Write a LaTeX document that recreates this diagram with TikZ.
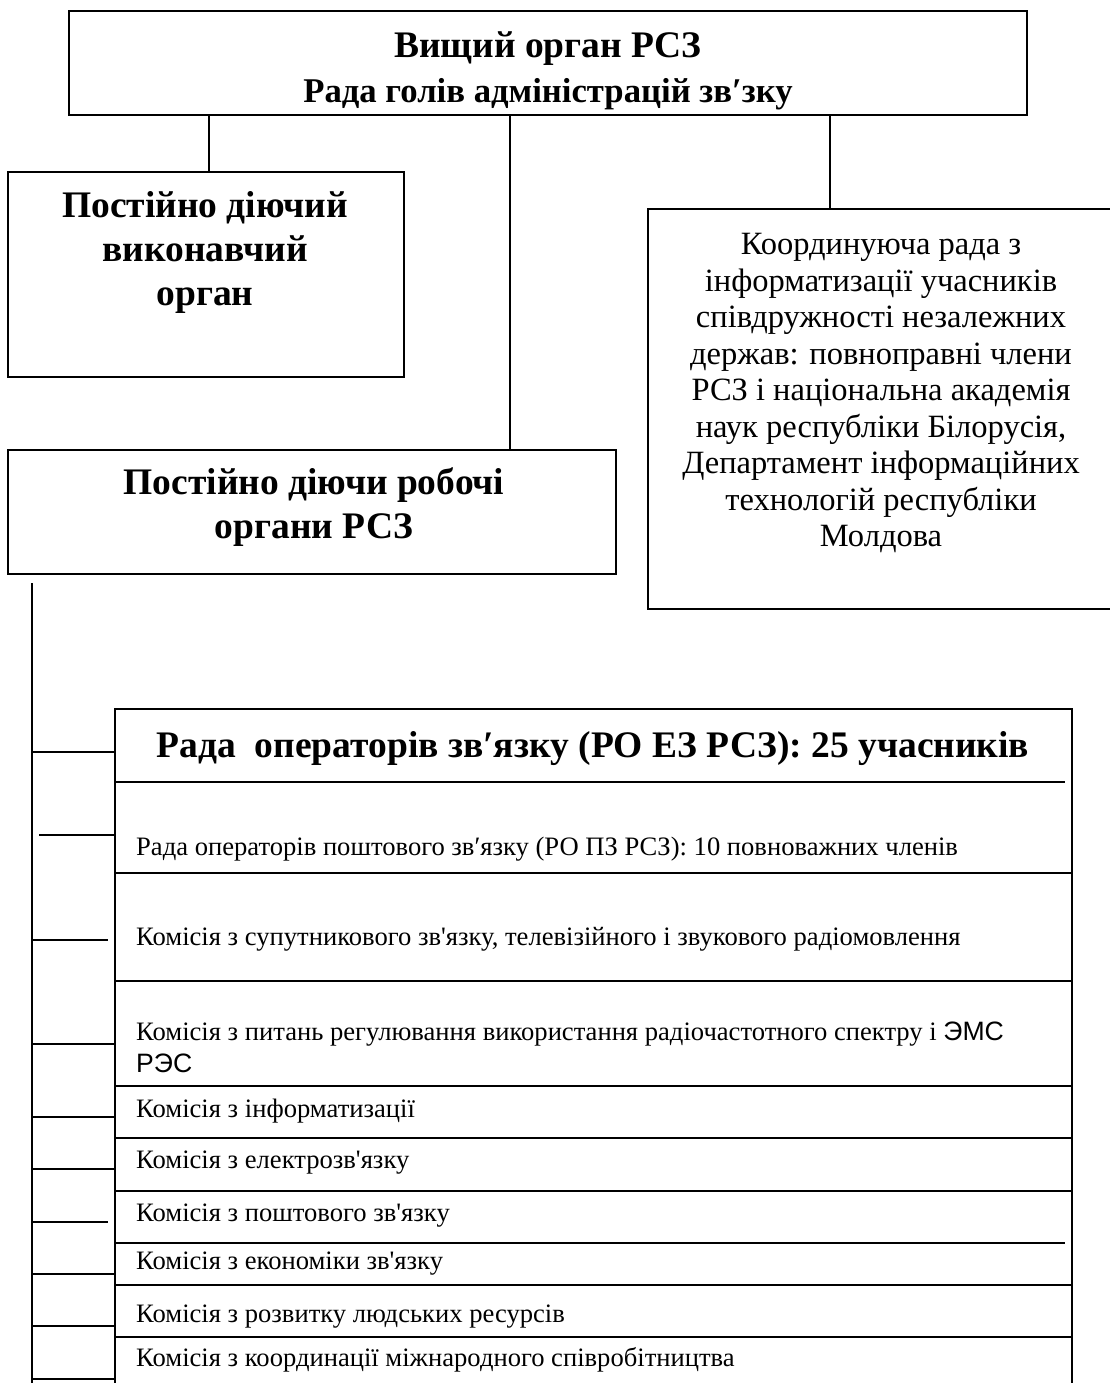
\documentclass[tikz,border=0pt]{standalone}
\usepackage{fontspec}
\setmainfont{Liberation Serif}[Ligatures=TeXOff]
\newfontfamily\arialfont{Liberation Sans}
\tikzset{
  box/.style={draw,line width=1.8pt,rectangle,inner sep=0pt},
  link/.style={line width=1.5pt},
  headtxt/.style={inner sep=0pt,align=center,font=\fontsize{37.5}{44}\selectfont\bfseries},
  infotxt/.style={inner sep=0pt,align=center,font=\fontsize{32.5}{36.5}\selectfont},
  rowtxt/.style={inner sep=0pt,anchor=west,align=left,font=\fontsize{26.6}{32}\selectfont},
}
\begin{document}
\begin{tikzpicture}[x=1pt,y=-1pt]
        \useasboundingbox (0,0) rectangle (1110,1383);
        \clip (0,0) rectangle (1110,1383);
        % boxes
        \draw (548,63) node[box,minimum width=958,minimum height=104](top){};
        \draw (206,274.5) node[box,minimum width=396,minimum height=205](exec){};
        \draw (312,512) node[box,minimum width=608,minimum height=124](work){};
        \draw (881,409) node[box,minimum width=466,minimum height=400](coord){};
        \draw (593.5,1052) node[box,minimum width=957,minimum height=686](ops){};
        % texts
        \draw (548,71) node[headtxt,font=\fontsize{34.7}{45}\selectfont\bfseries](toptxt){{\fontsize{37.5}{45}\selectfont Вищий орган РСЗ}\\Рада голів адміністрацій зв′зку};
        \draw (205,252) node[headtxt](exectxt){Постійно діючий\\виконавчий\\орган};
        \draw (314,507) node[headtxt](worktxt){Постійно діючи робочі\\органи РСЗ};
        \draw (881,393) node[infotxt](coordtxt){Координуюча рада з\\інформатизації учасників\\співдружності незалежних\\держав: повноправні члени\\РСЗ і національна академія\\наук республіки Білорусія,\\Департамент інформаційних\\технологій республіки\\Молдова};
        \draw (593,749) node[headtxt](opshead){Рада\ \ операторів зв′язку (РО ЕЗ РСЗ): 25 учасників};
        \draw (136,849) node[rowtxt](r1){Рада операторів поштового зв′язку (РО ПЗ РСЗ): 10 повноважних членів};
        \draw (136,939) node[rowtxt](r2){Комісія з супутникового зв'язку, телевізійного і звукового радіомовлення};
        \draw (136,1047) node[rowtxt](r3){Комісія з питань регулювання використання радіочастотного спектру і {\arialfont ЭМС}\\{\arialfont РЭС}};
        \draw (136,1111) node[rowtxt](r4){Комісія з інформатизації};
        \draw (136,1163) node[rowtxt](r5){Комісія з електрозв'язку};
        \draw (136,1216) node[rowtxt](r6){Комісія з поштового зв'язку};
        \draw (136,1264) node[rowtxt](r7){Комісія з економіки зв'язку};
        \draw (136,1317) node[rowtxt](r8){Комісія з розвитку людських ресурсів};
        \draw (136,1360) node[rowtxt](r9){Комісія з координації міжнародного співробітництва};
        % row lines
        \draw[link]
          (ops.west |- 0,782) -- (1065,782)
          (ops.west |- 0,873) -- (ops.east |- 0,873)
          (ops.west |- 0,981) -- (ops.east |- 0,981)
          (ops.west |- 0,1086) -- (ops.east |- 0,1086)
          (ops.west |- 0,1138) -- (ops.east |- 0,1138)
          (ops.west |- 0,1191) -- (ops.east |- 0,1191)
          (ops.west |- 0,1243) -- (1065,1243)
          (ops.west |- 0,1285) -- (ops.east |- 0,1285)
          (ops.west |- 0,1337) -- (ops.east |- 0,1337)
        ;
        % connectors
        \coordinate (c1) at (209,115);
        \coordinate (c2) at (510,115);
        \coordinate (c3) at (830,115);
        \coordinate (trunk) at (32,583);
        \draw[link]
          (c1) -- (c1 |- exec.north)
          (c2) -- (c2 |- work.north)
          (c3) -- (c3 |- coord.north)
          (trunk) -- (trunk |- ops.south)
          (trunk |- 0,752) -- (ops.west |- 0,752)
          (39,835) -- (ops.west |- 0,835)
          (trunk |- 0,940) -- (108,940)
          (trunk |- 0,1044) -- (ops.west |- 0,1044)
          (trunk |- 0,1117) -- (ops.west |- 0,1117)
          (trunk |- 0,1169) -- (ops.west |- 0,1169)
          (trunk |- 0,1222) -- (108,1222)
          (trunk |- 0,1274) -- (ops.west |- 0,1274)
          (trunk |- 0,1326) -- (ops.west |- 0,1326)
          (trunk |- 0,1379) -- (ops.west |- 0,1379)
        ;
      \end{tikzpicture}
\end{document}
